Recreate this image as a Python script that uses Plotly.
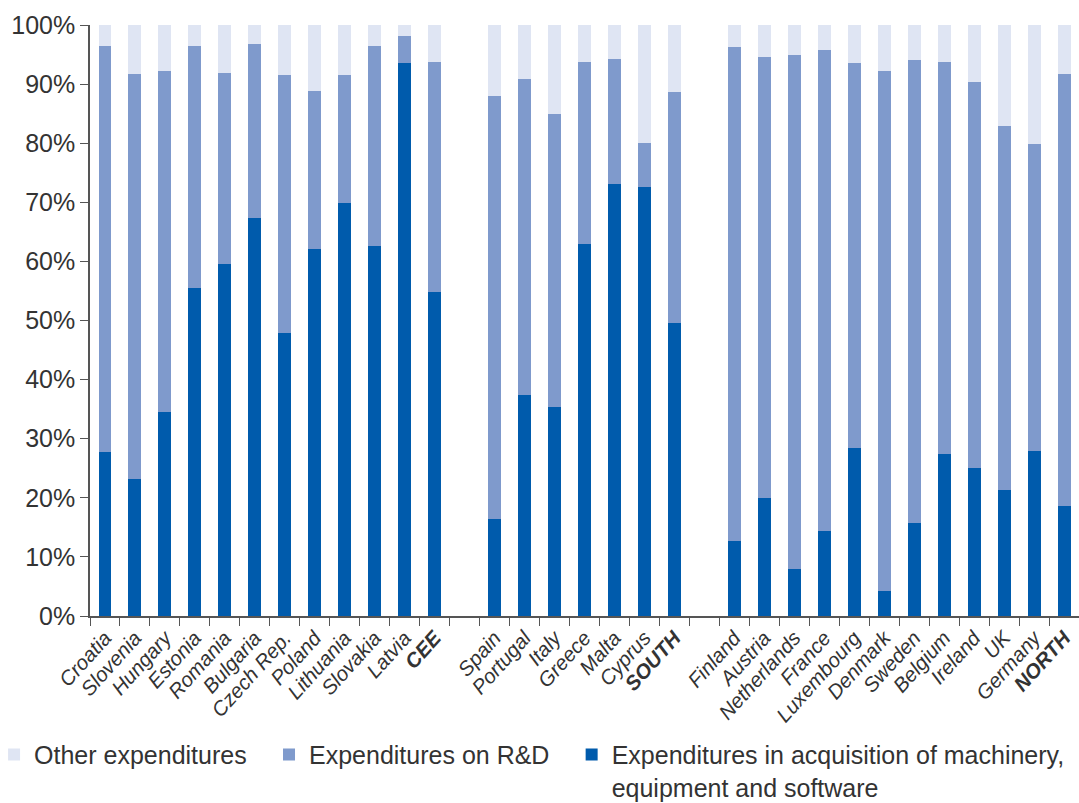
import plotly.graph_objects as go

categories = ["Croatia", "Slovenia", "Hungary", "Estonia", "Romania", "Bulgaria", "Czech Rep.",
              "Poland", "Lithuania", "Slovakia", "Latvia", "<b>CEE</b>", " ",
              "Spain", "Portugal", "Italy", "Greece", "Malta", "Cyprus", "<b>SOUTH</b>", "  ",
              "Finland", "Austria", "Netherlands", "France", "Luxembourg", "Denmark", "Sweden",
              "Belgium", "Ireland", "UK", "Germany", "<b>NORTH</b>"]

# cumulative top of machinery and of machinery + R&D (in %), None for gap slots
machinery = [27.7, 23.2, 34.5, 55.5, 59.6, 67.3, 47.9, 62.1, 69.9, 62.6, 93.6, 54.8, None,
             16.4, 37.4, 35.4, 62.9, 73.1, 72.6, 49.6, None,
             12.7, 20.0, 8.0, 14.4, 28.4, 4.2, 15.7, 27.4, 25.0, 21.3, 27.9, 18.6]
mach_rd_total = [96.4, 91.7, 92.2, 96.4, 91.9, 96.8, 91.5, 88.8, 91.5, 96.4, 98.1, 93.7, None,
                 88.0, 90.9, 84.9, 93.7, 94.2, 80.0, 88.7, None,
                 96.3, 94.6, 94.9, 95.8, 93.6, 92.2, 94.1, 93.7, 90.4, 82.9, 79.9, 91.7]

rd = [None if m is None else round(t - m, 1) for m, t in zip(machinery, mach_rd_total)]
other = [None if t is None else round(100 - t, 1) for t in mach_rd_total]

names = ["Expenditures in acquisition of machinery,<br>equipment and software",
         "Expenditures on R&D", "Other expenditures"]
colors = ["#005BAC", "#7F9ACC", "#DFE5F3"]
legend_ids = ["legend3", "legend2", "legend"]
y_ticks = [0, 10, 20, 30, 40, 50, 60, 70, 80, 90, 100]
y_tick_text = [f"{v}%" for v in y_ticks]

fig = go.Figure()
for vals, name, col, lg in zip([machinery, rd, other], names, colors, legend_ids):
    fig.add_trace(go.Bar(x=categories, y=vals, name=name, marker_color=col,
                         marker_line_width=0, legend=lg))

font_family = "Liberation Sans, Arial, sans-serif"
leg_common = dict(orientation="h", y=-0.196, yanchor="top", xanchor="left",
                  font=dict(size=25, color="#333333"), itemwidth=30, valign="top",
                  bgcolor="rgba(0,0,0,0)")
fig.update_layout(
    width=1079, height=803,
    barmode="stack", bargap=0.567,
    plot_bgcolor="white", paper_bgcolor="white",
    margin=dict(l=90, r=0, t=25, b=187, autoexpand=False),
    font=dict(family=font_family, color="#333333"),
    legend=dict(x=-0.097, **leg_common),
    legend2=dict(x=0.181, **leg_common),
    legend3=dict(x=0.487, **leg_common),
    showlegend=True,
)
fig.update_yaxes(range=[0, 100], tickvals=y_ticks, ticktext=y_tick_text, showgrid=False,
                 showline=True, linecolor="#555555", linewidth=1.5,
                 ticks="outside", ticklen=8, tickcolor="#555555", automargin=False,
                 tickfont=dict(size=25, color="#333333"), zeroline=False)
fig.update_xaxes(type="category", showline=True, linecolor="#555555", linewidth=1.5,
                 ticks="outside", tickson="boundaries", ticklen=8, tickcolor="#555555",
                 tickangle=-48, tickfont=dict(size=20.5, color="#333333", style="italic"),
                 range=[-0.5, 32.5], automargin=False)

fig.write_html("out.html", config={"displayModeBar": False},
               post_script="document.body.style.margin='0';document.body.style.overflow='hidden';")
